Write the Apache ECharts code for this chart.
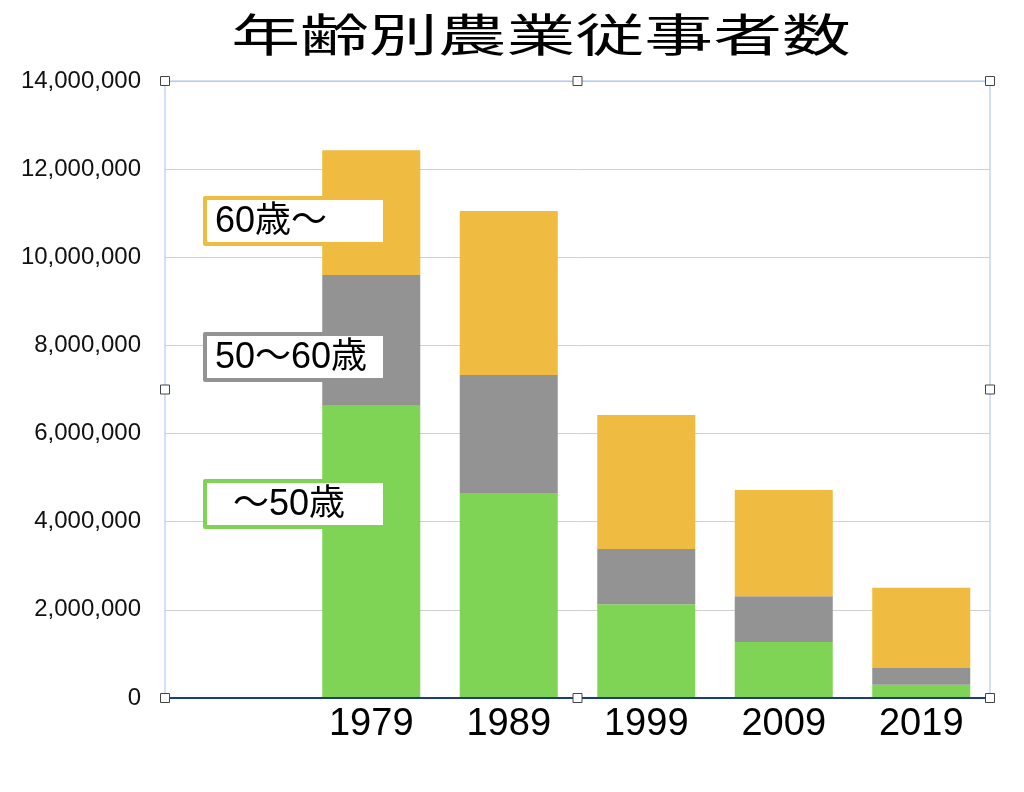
<!DOCTYPE html>
<html>
<head>
<meta charset="utf-8">
<script src="https://cdn.jsdelivr.net/npm/echarts@6/dist/echarts.min.js"></script>
<style>
  html, body { margin: 0; padding: 0; background: #fff; }
  #chart { width: 1024px; height: 792px; }
</style>
</head>
<body>
<div id="chart"></div>
<script>
const years = ['', '1979', '1989', '1999', '2009', '2019']
const under50 = [null, 6630000, 4650000, 2130000, 1270000, 300000]
const from50to60 = [null, 2970000, 2680000, 1250000, 1040000, 380000]
const over60 = [null, 2830000, 3720000, 3040000, 2410000, 1820000]
const seriesNames = ['～50歳', '50～60歳', '60歳～']
const COLORS = ['#80d455', '#939393', '#efbb40']

const GRID = { left: 165, right: 34, top: 81, bottom: 94 }
const W = 1024, H = 792
const FONT = '"Liberation Sans", "Noto Sans CJK JP", sans-serif'

const chart = echarts.init(document.getElementById('chart'), null, { renderer: 'canvas' })

// plot frame + selection handles
const x0 = GRID.left, x1 = W - GRID.right, y0 = GRID.top, y1 = H - GRID.bottom
const xm = (x0 + x1) / 2, ym = (y0 + y1) / 2
const handles = [[x0, y0], [xm, y0], [x1, y0], [x0, ym], [x1, ym], [x0, y1], [xm, y1], [x1, y1]]

// label boxes: [text, colorIdx, top, textX]
const boxes = [
  ['60歳～', 2, 196, 215],
  ['50～60歳', 1, 332, 215],
  ['～50歳', 0, 479, 233],
]

const graphic = [
  {
    type: 'rect', z: 1, silent: true,
    shape: { x: x0, y: y0, width: x1 - x0, height: y1 - y0 },
    style: { fill: 'none', stroke: '#a9c0f2', lineWidth: 1 },
  },
  ...handles.map(([hx, hy]) => ({
    type: 'rect', z: 20, silent: true,
    shape: { x: hx - 4.5, y: hy - 4.5, width: 9, height: 9 },
    style: { fill: '#fff', stroke: '#444', lineWidth: 1 },
  })),
  {
    type: 'text', z: 20, x: 541, y: 35, scaleX: 1.53,
    style: { text: '年齢別農業従事者数', x: 0, y: 0, align: 'center', verticalAlign: 'middle',
      fontSize: 45, fontFamily: '"Noto Sans CJK JP", sans-serif', fill: '#000' },
  },
]
boxes.forEach(([t, ci, top, tx]) => {
  graphic.push({
    type: 'rect', z: 10, silent: true,
    shape: { x: 203, y: top, width: 180, height: 50, r: 2 },
    style: { fill: COLORS[ci] },
  })
  graphic.push({
    type: 'rect', z: 11, silent: true,
    shape: { x: 207, y: top + 4, width: 176, height: 42 },
    style: { fill: '#fff' },
  })
  graphic.push({
    type: 'text', z: 12,
    style: { text: t, x: tx, y: top + 26, verticalAlign: 'middle',
      fontSize: 36, fontFamily: FONT, fill: '#000' },
  })
})

const data = [under50, from50to60, over60]

chart.setOption({
  animation: false,
  grid: { ...GRID, containLabel: false },
  xAxis: {
    type: 'category', data: years, z: 5,
    axisLine: { lineStyle: { color: '#1b3a8a', width: 2 } },
    axisTick: { show: false },
    axisLabel: { fontSize: 38, color: '#000', fontFamily: FONT, margin: 8 },
  },
  yAxis: {
    type: 'value', min: 0, max: 14000000, interval: 2000000,
    axisLine: { show: false }, axisTick: { show: false },
    axisLabel: {
      fontSize: 24, color: '#111', fontFamily: FONT, margin: 24,
      formatter: v => v.toLocaleString('en-US'),
    },
    splitLine: { lineStyle: { color: '#d0d0d0', width: 1 } },
  },
  series: seriesNames.map((name, i) => ({
    name, type: 'bar', stack: 'total', barWidth: 98,
    data: data[i],
    itemStyle: { color: COLORS[i] },
  })),
  graphic,
})
</script>
</body>
</html>
